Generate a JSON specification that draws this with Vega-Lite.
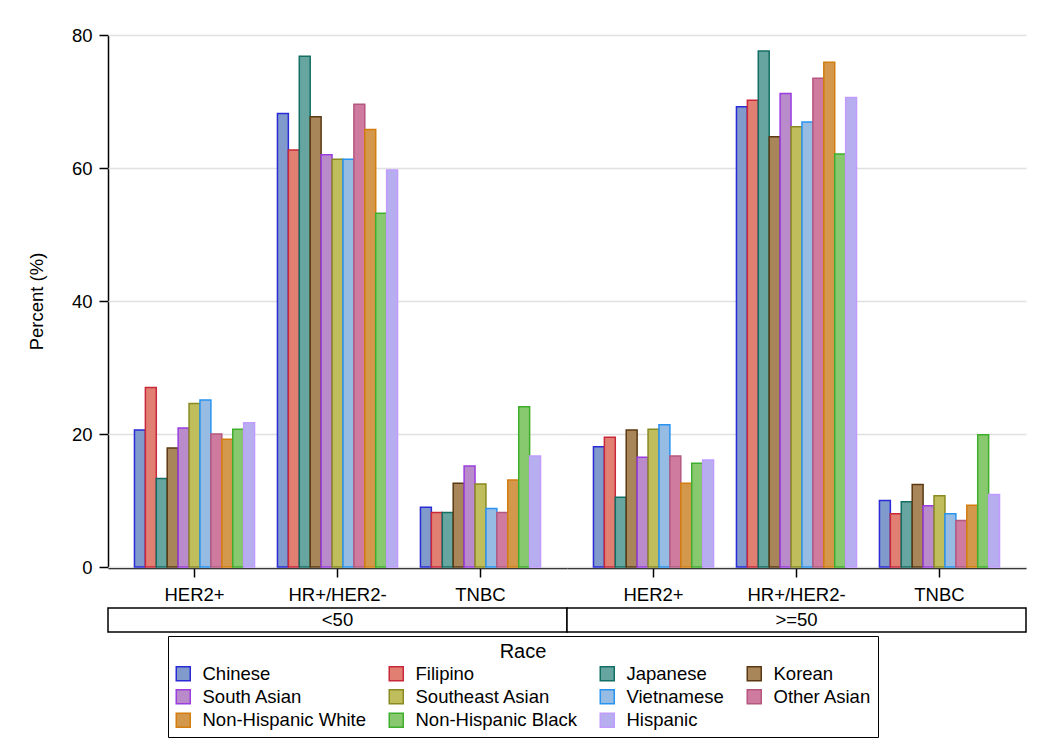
{
  "$schema": "https://vega.github.io/schema/vega-lite/v6.json",
  "padding": {"left": 27, "top": 26, "right": 10, "bottom": 10},
  "background": "white",
  "bounds": "flush",
  "spacing": 573,
  "config": {
    "font": "Liberation Sans",
    "view": {"stroke": null},
    "axis": {
      "domainColor": "black", "domainWidth": 1.5,
      "tickColor": "black", "tickWidth": 1.5, "tickSize": 9,
      "labelFont": "Liberation Sans", "labelFontSize": 18.5, "labelColor": "black",
      "titleFont": "Liberation Sans", "titleFontSize": 18.5, "titleFontWeight": "normal", "titleColor": "black",
      "gridColor": "#e0e0e0", "gridWidth": 1.5
    },
    "legend": {
      "columns": 4,
      "direction": "horizontal",
      "titleAnchor": "middle",
      "titleFont": "Liberation Sans", "titleFontSize": 20, "titleFontWeight": "normal", "titleColor": "black",
      "labelFont": "Liberation Sans", "labelFontSize": 18.5, "labelColor": "black", "labelLimit": 400,
      "symbolType": "square", "symbolSize": 196, "symbolStrokeWidth": 1.5,
      "strokeColor": "black", "padding": 6, "rowPadding": 2.5, "columnPadding": 20,
      "labelOffset": 10, "titlePadding": 2
    }
  },
  "vconcat": [
    {
      "data": {"values": [
        {"age": "<50", "subtype": "HER2+", "race": "Chinese", "pct": 20.6},
        {"age": "<50", "subtype": "HER2+", "race": "Filipino", "pct": 27.0},
        {"age": "<50", "subtype": "HER2+", "race": "Japanese", "pct": 13.3},
        {"age": "<50", "subtype": "HER2+", "race": "Korean", "pct": 17.9},
        {"age": "<50", "subtype": "HER2+", "race": "South Asian", "pct": 20.9},
        {"age": "<50", "subtype": "HER2+", "race": "Southeast Asian", "pct": 24.6},
        {"age": "<50", "subtype": "HER2+", "race": "Vietnamese", "pct": 25.1},
        {"age": "<50", "subtype": "HER2+", "race": "Other Asian", "pct": 20.0},
        {"age": "<50", "subtype": "HER2+", "race": "Non-Hispanic White", "pct": 19.2},
        {"age": "<50", "subtype": "HER2+", "race": "Non-Hispanic Black", "pct": 20.7},
        {"age": "<50", "subtype": "HER2+", "race": "Hispanic", "pct": 21.7},
        {"age": "<50", "subtype": "HR+/HER2-", "race": "Chinese", "pct": 68.2},
        {"age": "<50", "subtype": "HR+/HER2-", "race": "Filipino", "pct": 62.7},
        {"age": "<50", "subtype": "HR+/HER2-", "race": "Japanese", "pct": 76.8},
        {"age": "<50", "subtype": "HR+/HER2-", "race": "Korean", "pct": 67.7},
        {"age": "<50", "subtype": "HR+/HER2-", "race": "South Asian", "pct": 62.0},
        {"age": "<50", "subtype": "HR+/HER2-", "race": "Southeast Asian", "pct": 61.3},
        {"age": "<50", "subtype": "HR+/HER2-", "race": "Vietnamese", "pct": 61.3},
        {"age": "<50", "subtype": "HR+/HER2-", "race": "Other Asian", "pct": 69.6},
        {"age": "<50", "subtype": "HR+/HER2-", "race": "Non-Hispanic White", "pct": 65.8},
        {"age": "<50", "subtype": "HR+/HER2-", "race": "Non-Hispanic Black", "pct": 53.2},
        {"age": "<50", "subtype": "HR+/HER2-", "race": "Hispanic", "pct": 59.7},
        {"age": "<50", "subtype": "TNBC", "race": "Chinese", "pct": 9.0},
        {"age": "<50", "subtype": "TNBC", "race": "Filipino", "pct": 8.2},
        {"age": "<50", "subtype": "TNBC", "race": "Japanese", "pct": 8.2},
        {"age": "<50", "subtype": "TNBC", "race": "Korean", "pct": 12.6},
        {"age": "<50", "subtype": "TNBC", "race": "South Asian", "pct": 15.2},
        {"age": "<50", "subtype": "TNBC", "race": "Southeast Asian", "pct": 12.5},
        {"age": "<50", "subtype": "TNBC", "race": "Vietnamese", "pct": 8.8},
        {"age": "<50", "subtype": "TNBC", "race": "Other Asian", "pct": 8.2},
        {"age": "<50", "subtype": "TNBC", "race": "Non-Hispanic White", "pct": 13.1},
        {"age": "<50", "subtype": "TNBC", "race": "Non-Hispanic Black", "pct": 24.1},
        {"age": "<50", "subtype": "TNBC", "race": "Hispanic", "pct": 16.7},
        {"age": ">=50", "subtype": "HER2+", "race": "Chinese", "pct": 18.1},
        {"age": ">=50", "subtype": "HER2+", "race": "Filipino", "pct": 19.5},
        {"age": ">=50", "subtype": "HER2+", "race": "Japanese", "pct": 10.5},
        {"age": ">=50", "subtype": "HER2+", "race": "Korean", "pct": 20.6},
        {"age": ">=50", "subtype": "HER2+", "race": "South Asian", "pct": 16.5},
        {"age": ">=50", "subtype": "HER2+", "race": "Southeast Asian", "pct": 20.7},
        {"age": ">=50", "subtype": "HER2+", "race": "Vietnamese", "pct": 21.4},
        {"age": ">=50", "subtype": "HER2+", "race": "Other Asian", "pct": 16.7},
        {"age": ">=50", "subtype": "HER2+", "race": "Non-Hispanic White", "pct": 12.6},
        {"age": ">=50", "subtype": "HER2+", "race": "Non-Hispanic Black", "pct": 15.6},
        {"age": ">=50", "subtype": "HER2+", "race": "Hispanic", "pct": 16.1},
        {"age": ">=50", "subtype": "HR+/HER2-", "race": "Chinese", "pct": 69.2},
        {"age": ">=50", "subtype": "HR+/HER2-", "race": "Filipino", "pct": 70.2},
        {"age": ">=50", "subtype": "HR+/HER2-", "race": "Japanese", "pct": 77.6},
        {"age": ">=50", "subtype": "HR+/HER2-", "race": "Korean", "pct": 64.7},
        {"age": ">=50", "subtype": "HR+/HER2-", "race": "South Asian", "pct": 71.2},
        {"age": ">=50", "subtype": "HR+/HER2-", "race": "Southeast Asian", "pct": 66.2},
        {"age": ">=50", "subtype": "HR+/HER2-", "race": "Vietnamese", "pct": 66.9},
        {"age": ">=50", "subtype": "HR+/HER2-", "race": "Other Asian", "pct": 73.5},
        {"age": ">=50", "subtype": "HR+/HER2-", "race": "Non-Hispanic White", "pct": 75.9},
        {"age": ">=50", "subtype": "HR+/HER2-", "race": "Non-Hispanic Black", "pct": 62.1},
        {"age": ">=50", "subtype": "HR+/HER2-", "race": "Hispanic", "pct": 70.6},
        {"age": ">=50", "subtype": "TNBC", "race": "Chinese", "pct": 10.0},
        {"age": ">=50", "subtype": "TNBC", "race": "Filipino", "pct": 8.0},
        {"age": ">=50", "subtype": "TNBC", "race": "Japanese", "pct": 9.8},
        {"age": ">=50", "subtype": "TNBC", "race": "Korean", "pct": 12.4},
        {"age": ">=50", "subtype": "TNBC", "race": "South Asian", "pct": 9.2},
        {"age": ">=50", "subtype": "TNBC", "race": "Southeast Asian", "pct": 10.7},
        {"age": ">=50", "subtype": "TNBC", "race": "Vietnamese", "pct": 8.0},
        {"age": ">=50", "subtype": "TNBC", "race": "Other Asian", "pct": 7.0},
        {"age": ">=50", "subtype": "TNBC", "race": "Non-Hispanic White", "pct": 9.3},
        {"age": ">=50", "subtype": "TNBC", "race": "Non-Hispanic Black", "pct": 19.9},
        {"age": ">=50", "subtype": "TNBC", "race": "Hispanic", "pct": 10.9}
      ]},
      "facet": {"column": {"field": "age", "type": "nominal", "sort": ["<50", ">=50"], "header": {"labels": false, "title": null}}},
      "spacing": 0,
      "spec": {
        "width": 459,
        "height": 532,
        "mark": {"type": "bar", "strokeWidth": 1.5},
        "encoding": {
          "x": {"field": "subtype", "type": "nominal", "sort": ["HER2+", "HR+/HER2-", "TNBC"],
                "scale": {"paddingInner": 0.16, "paddingOuter": 0.185},
                "axis": {"title": null, "labelAngle": 0, "labelPadding": 8, "grid": false}},
          "xOffset": {"field": "race", "type": "nominal",
                "sort": ["Chinese", "Filipino", "Japanese", "Korean", "South Asian", "Southeast Asian", "Vietnamese", "Other Asian", "Non-Hispanic White", "Non-Hispanic Black", "Hispanic"],
                "scale": {"paddingInner": 0, "paddingOuter": 0}},
          "y": {"field": "pct", "type": "quantitative",
                "scale": {"domain": [0, 80], "nice": false},
                "axis": {"title": "Percent (%)", "values": [0, 20, 40, 60, 80], "grid": true, "labelPadding": 7, "titlePadding": 25, "minExtent": 37, "maxExtent": 37}},
          "fill": {"field": "race", "type": "nominal",
                "sort": ["Chinese", "Filipino", "Japanese", "Korean", "South Asian", "Southeast Asian", "Vietnamese", "Other Asian", "Non-Hispanic White", "Non-Hispanic Black", "Hispanic"],
                "scale": {"domain": ["Chinese", "Filipino", "Japanese", "Korean", "South Asian", "Southeast Asian", "Vietnamese", "Other Asian", "Non-Hispanic White", "Non-Hispanic Black", "Hispanic"],
                          "range": ["#7f9acb", "#e07f72", "#67a6a0", "#a9855a", "#b98bcb", "#bfbd5c", "#96bce3", "#cf7a9f", "#d3984c", "#88c86f", "#b7aef0"]},
                "legend": {"title": "Race", "orient": "none", "legendX": 60, "legendY": 601, "direction": "horizontal", "columns": 4}},
          "stroke": {"field": "race", "type": "nominal",
                "sort": ["Chinese", "Filipino", "Japanese", "Korean", "South Asian", "Southeast Asian", "Vietnamese", "Other Asian", "Non-Hispanic White", "Non-Hispanic Black", "Hispanic"],
                "scale": {"domain": ["Chinese", "Filipino", "Japanese", "Korean", "South Asian", "Southeast Asian", "Vietnamese", "Other Asian", "Non-Hispanic White", "Non-Hispanic Black", "Hispanic"],
                          "range": ["#2a2ad6", "#c8283a", "#136e64", "#5b3a13", "#9b3de0", "#8a8a22", "#2893f0", "#b5587f", "#d27d0e", "#3fae2d", "#c09cff"]},
                "legend": {"title": "Race", "orient": "none", "legendX": 60, "legendY": 601, "direction": "horizontal", "columns": 4}}
        }
      }
    },
    {
      "data": {"values": [{"age": "<50"}, {"age": ">=50"}]},
      "width": 918,
      "height": 24,
      "layer": [
        {"mark": {"type": "bar", "fill": "white", "stroke": "black", "strokeWidth": 1.5},
         "encoding": {"x": {"field": "age", "type": "nominal", "sort": ["<50", ">=50"], "scale": {"paddingInner": 0, "paddingOuter": 0}, "axis": null}}},
        {"mark": {"type": "text", "fontSize": 18.5, "font": "Liberation Sans", "color": "black"},
         "encoding": {"x": {"field": "age", "type": "nominal", "sort": ["<50", ">=50"], "axis": null}, "text": {"field": "age"}}}
      ]
    }
  ]
}
